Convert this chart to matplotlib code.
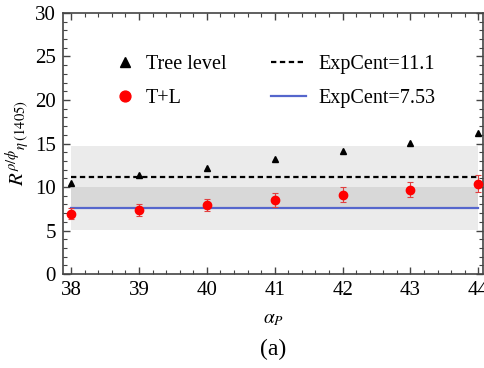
import numpy as np
import matplotlib.pyplot as plt
from matplotlib.ticker import MultipleLocator

plt.rcParams['font.family'] = ['Liberation Serif', 'DejaVu Serif']
plt.rcParams['mathtext.fontset'] = 'stix'

# data
alpha_p = [38, 39, 40, 41, 42, 43, 44]
tree = [10.5, 11.4, 12.2, 13.2, 14.1, 15.1, 16.2]
tl = [6.95, 7.4, 7.95, 8.5, 9.1, 9.7, 10.4]
tl_err = [0.6, 0.7, 0.7, 0.8, 0.85, 0.9, 0.95]
exp1, exp1_err = 11.1, 3.6
exp2, exp2_err = 7.53, 2.5

fig = plt.figure(figsize=(4.85, 3.68), dpi=100)
ax = fig.add_axes([0.130, 0.2554, 0.866, 0.7093])

x0, x1 = alpha_p[0], alpha_p[-1]
ax.fill_between([x0, x1], exp1 - exp1_err, exp1 + exp1_err, color='k', alpha=0.08, lw=0)
ax.fill_between([x0, x1], exp2 - exp2_err, exp2 + exp2_err, color='k', alpha=0.08, lw=0)
l1, = ax.plot([x0, x1], [exp1, exp1], color='k', ls=(0, (2.4, 1.6)), lw=1.6)
l2, = ax.plot([x0, x1], [exp2, exp2], color='#5566cc', lw=1.6)

m1, = ax.plot(alpha_p, tree, '^', color='k', ms=5, clip_on=False, zorder=5)
m2 = ax.errorbar(alpha_p, tl, yerr=tl_err, fmt='o', color='red', ms=6,
                 ecolor='#e04040', elinewidth=0.8, capsize=2.5, capthick=0.8,
                 clip_on=False, zorder=5)
for a in m2.lines[1] + m2.lines[2]:
    a.set_clip_on(False)

leg1 = ax.legend([m1, m2[0]], ['Tree level', 'T+L'], loc='upper left',
                 bbox_to_anchor=(0.08, 0.91), frameon=False, fontsize=14.5,
                 handlelength=1.0, handletextpad=0.55, labelspacing=0.75,
                 markerscale=1.3)
ax.add_artist(leg1)
ax.legend([l1, l2], ['ExpCent=11.1', 'ExpCent=7.53'], loc='upper left',
          bbox_to_anchor=(0.452, 0.91), frameon=False, fontsize=14.5,
          handlelength=1.75, handletextpad=0.6, labelspacing=0.75)

ax.set_xlim(37.88, 44.07)
ax.set_ylim(0, 30)
ax.xaxis.set_major_locator(MultipleLocator(1))
ax.xaxis.set_minor_locator(MultipleLocator(0.2))
ax.yaxis.set_major_locator(MultipleLocator(5))
ax.yaxis.set_minor_locator(MultipleLocator(1))
ax.tick_params(which='both', direction='in', top=True, right=True,
               color='#444444', labelsize=15, pad=5)
ax.tick_params(which='major', length=5, width=1)
ax.tick_params(which='minor', length=3, width=0.8)
for s in ax.spines.values():
    s.set_color('#444444')
    s.set_linewidth(1.2)

ax.set_xlabel(r'$\alpha_P$', fontsize=14, labelpad=8)
ax.set_ylabel(r'$R^{\rho/\phi}{}_{\eta\,(1405)}$', fontsize=15, labelpad=2)
fig.text(0.563, 0.05, '(a)', ha='center', va='center', fontsize=17)

fig.savefig('out.png', dpi=100)
